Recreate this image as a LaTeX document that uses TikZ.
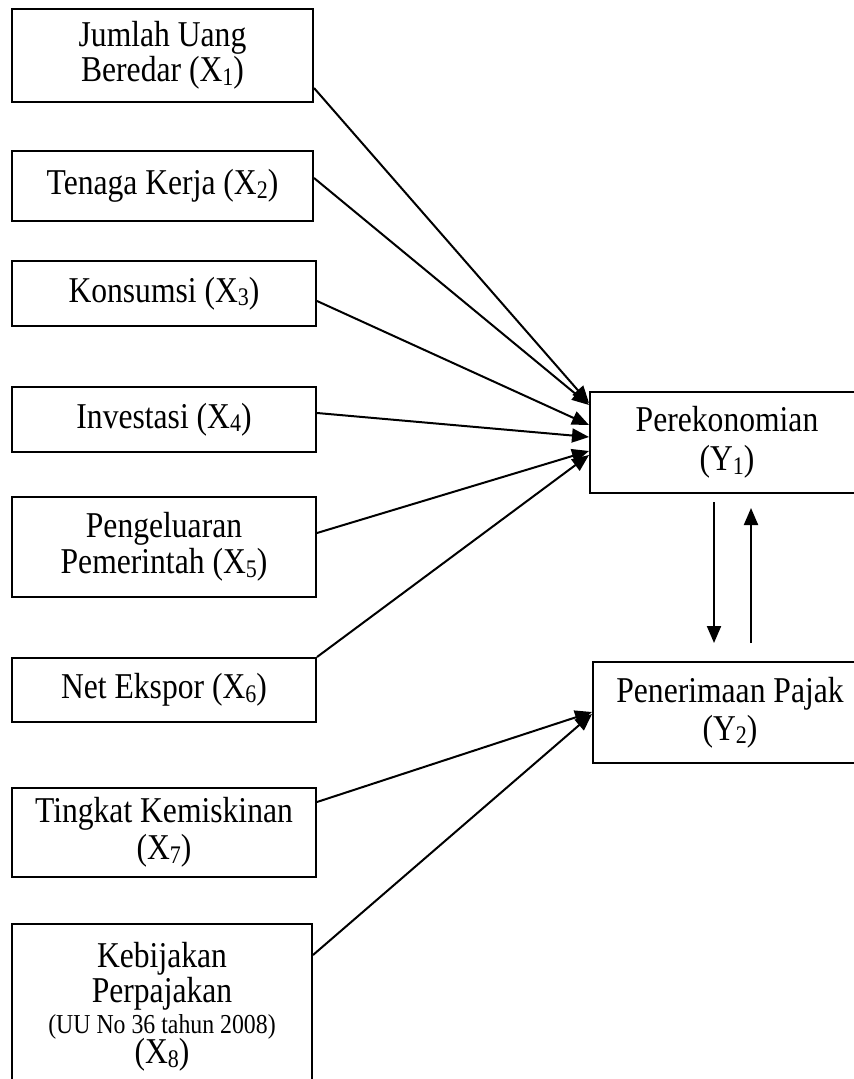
\documentclass[tikz,border=0pt]{standalone}
\usepackage{fontspec}
\setmainfont{Liberation Serif}
\usetikzlibrary{arrows.meta,calc}
\newcommand\sbs[1]{\raisebox{-0.1em}{\fontsize{11pt}{11pt}\selectfont #1}}
\newcommand\vs[1]{\scalebox{1}[1.15]{#1}}
\tikzset{
  box/.style={draw, line width=1pt, rectangle, inner sep=0pt, align=center,
    font=\fontsize{15.8pt}{18pt}\selectfont},
  arr/.style={line width=1pt, -{Triangle[length=8.5pt,width=7pt]}},
}
\begin{document}
\begin{tikzpicture}[x=0.5pt,y=-0.5pt]
\useasboundingbox (0,0) rectangle (853,1079);
\node[box, minimum width=150.5pt, minimum height=46.5pt, font=\fontsize{15.8pt}{16.5pt}\selectfont] (x1) at (162.5,55.5) {\vs{Jumlah Uang}\\\vs{Beredar (X\sbs{1})}};
\node[box, minimum width=150.5pt, minimum height=35pt] (x2) at (162.5,186) {\vs{Tenaga Kerja (X\sbs{2})}};
\node[box, minimum width=152pt, minimum height=32.5pt] (x3) at (164,293.5) {\vs{Konsumsi (X\sbs{3})}};
\node[box, minimum width=152pt, minimum height=32.5pt] (x4) at (164,419.5) {\vs{Investasi (X\sbs{4})}};
\node[box, minimum width=152pt, minimum height=50pt] (x5) at (164,547) {\vs{Pengeluaran}\\\vs{Pemerintah (X\sbs{5})}};
\node[box, minimum width=152pt, minimum height=32pt] (x6) at (164,690) {\vs{Net Ekspor (X\sbs{6})}};
\node[box, minimum width=152pt, minimum height=44.5pt, font=\fontsize{15.8pt}{18.5pt}\selectfont] (x7) at (164,832.5) {\vs{Tingkat Kemiskinan}\\\vs{(X\sbs{7})}};
\node[box, minimum width=150pt, minimum height=83pt, font=\fontsize{15.8pt}{17.5pt}\selectfont] (x8) at (162,1007) {\vs{Kebijakan}\\\vs{Perpajakan}\\[-2pt]{\fontsize{11.9pt}{14pt}\selectfont\vs{(UU No 36 tahun 2008)}}\\[-2.5pt]\vs{(X\sbs{8})}};
\node[box, minimum width=137pt, minimum height=50.5pt, font=\fontsize{15.8pt}{19.5pt}\selectfont] (y1) at (727,442.5) {\vs{Perekonomian}\\\vs{(Y\sbs{1})}};
\node[box, minimum width=137pt, minimum height=50.5pt, font=\fontsize{15.8pt}{19pt}\selectfont] (y2) at (730,712.5) {\vs{Penerimaan Pajak}\\\vs{(Y\sbs{2})}};

\draw[arr] (x1.east |- 0,88) -- (y1.west |- 0,403);
\draw[arr] (x2.east |- 0,178) -- (y1.west |- 0,405);
\draw[arr] (x3.east |- 0,301) -- (y1.west |- 0,425);
\draw[arr] (x4.east |- 0,413) -- (y1.west |- 0,437);
\draw[arr] (x5.east |- 0,533) -- (y1.west |- 0,451);
\draw[arr] (x6.north east) -- (y1.west |- 0,455);
\draw[arr] (x7.east |- 0,802) -- (y2.west |- 0,712);
\draw[arr] (x8.east |- 0,955) -- (y2.west |- 0,714);

\coordinate (d1) at (714,502);
\coordinate (d2) at (714,643);
\coordinate (u1) at (751,643);
\coordinate (u2) at (751,508);
\draw[arr] (d1) -- (d2);
\draw[arr] (u1) -- (u2);
\end{tikzpicture}
\end{document}
